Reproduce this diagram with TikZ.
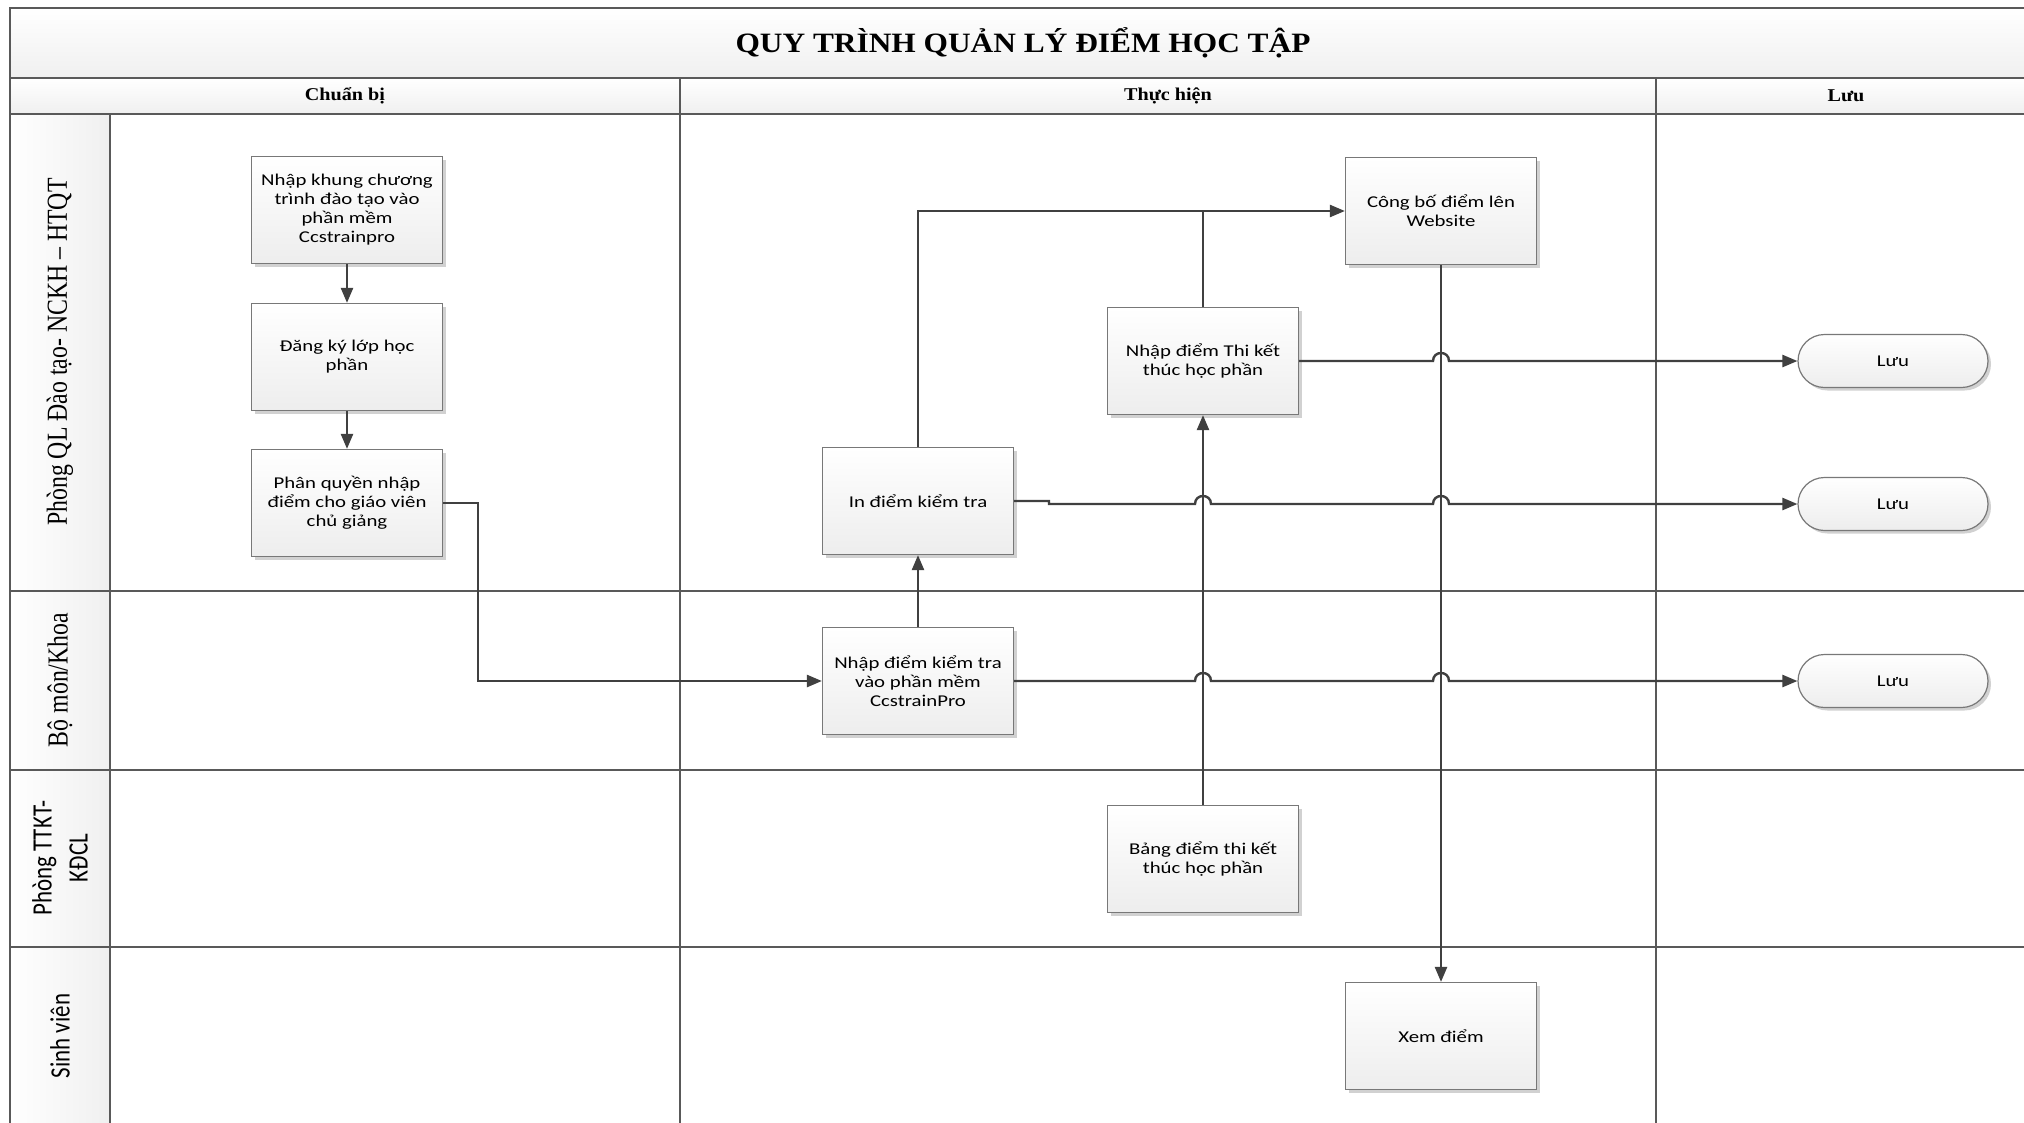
\documentclass[tikz,border=0pt]{standalone}
\usepackage{fontspec}
\setmainfont{Liberation Serif}
\newfontfamily\boxfont[FakeStretch=1.26]{Carlito}
\newfontfamily\lanesans[FakeStretch=0.82]{Carlito}
\newfontfamily\laneserif[FakeStretch=0.82]{Liberation Serif}
\newfontfamily\titlefont[FakeStretch=1.12]{Liberation Serif}
\usetikzlibrary{arrows.meta,shadows}
\definecolor{lanec}{RGB}{89,89,89}
\definecolor{connc}{RGB}{64,64,64}
\definecolor{boxline}{RGB}{120,120,120}
\begin{document}
\begin{tikzpicture}[x=1pt,y=-1pt,
  proc/.style={draw=boxline, line width=1.2pt, top color=white, bottom color=gray!14,
    minimum width=191pt, minimum height=107pt, align=center, inner sep=2pt,
    font=\boxfont\fontsize{16.5}{19}\selectfont,
    drop shadow={shadow xshift=3pt, shadow yshift=-3pt, fill=black, opacity=0.18}},
  term/.style={draw=boxline, line width=1.2pt, top color=white, bottom color=gray!14,
    minimum width=190pt, minimum height=53pt, rounded corners=26.5pt, align=center,
    font=\boxfont\fontsize{16.5}{19}\selectfont,
    drop shadow={shadow xshift=3pt, shadow yshift=-3pt, fill=black, opacity=0.18}},
  conn/.style={draw=connc, line width=2.4pt},
  arr/.style={conn, -{Triangle[length=15pt,width=12pt]}},
  lane/.style={draw=lanec, line width=2pt},
  divider/.style={draw=lanec, line width=1.6pt},
  lanelabel/.style={rotate=90, align=center}
]
\useasboundingbox (0,0) rectangle (2024,1122);
\clip (0,0) rectangle (2024,1122);
\fill[white] (0,0) rectangle (2024,1122);

% bands
\shade[top color=white, bottom color=gray!12] (10,7.7) rectangle (2036,78);
\shade[top color=white, bottom color=gray!12] (10,78) rectangle (2036,113.7);
\shade[left color=white, right color=gray!12] (10,113.7) rectangle (110,1125);

% lane and column lines
\draw[lane] (10,7.7) rectangle (2036,1125);
\draw[lane] (10,78) -- (2036,78);
\draw[lane] (10,113.7) -- (2036,113.7);
\draw[lane] (110,113.7) -- (110,1125);
\draw[lane] (10,591) -- (2036,591);
\draw[lane] (10,770) -- (2036,770);
\draw[lane] (10,947) -- (2036,947);
\draw[divider] (680,78) -- (680,1125);
\draw[divider] (1656,78) -- (1656,1125);

% title and headers
\node (title) at (1023,43) {\titlefont\bfseries\fontsize{28}{32}\selectfont QUY TRÌNH QUẢN LÝ ĐIỂM HỌC TẬP};
\node (h1) at (345,95.8) {\titlefont\bfseries\fontsize{18}{20}\selectfont Chuẩn bị};
\node (h2) at (1168,95.8) {\titlefont\bfseries\fontsize{18}{20}\selectfont Thực hiện};
\node (h3) at (1846,95.8) {\titlefont\bfseries\fontsize{18}{20}\selectfont Lưu};

% lane labels
\node[lanelabel, font=\laneserif\fontsize{29}{32}\selectfont] (l1) at (60,352) {Phòng QL Đào tạo- NCKH – HTQT};
\node[lanelabel, font=\laneserif\fontsize{29}{32}\selectfont] (l2) at (60,680) {Bộ môn/Khoa};
\node[lanelabel, font=\lanesans\fontsize{28}{36}\selectfont] (l3) at (60,858) {Phòng TTKT-\\KĐCL};
\node[lanelabel, font=\lanesans\fontsize{28}{32}\selectfont] (l4) at (60,1036) {Sinh viên};

% process boxes
\node[proc] (A) at (347,210) {Nhập khung chương\\trình đào tạo vào\\phần mềm\\Ccstrainpro};
\node[proc] (B) at (347,357) {Đăng ký lớp học\\phần};
\node[proc] (C) at (347,503) {Phân quyền nhập\\điểm cho giáo viên\\chủ giảng};
\node[proc] (D) at (918,501) {In điểm kiểm tra};
\node[proc] (E) at (918,681) {Nhập điểm kiểm tra\\vào phần mềm\\CcstrainPro};
\node[proc] (F) at (1203,361) {Nhập điểm Thi kết\\thúc học phần};
\node[proc] (G) at (1441,211) {Công bố điểm lên\\Website};
\node[proc] (H) at (1203,859) {Bảng điểm thi kết\\thúc học phần};
\node[proc] (I) at (1441,1036) {Xem điểm};
\node[term] (L1) at (1893,361) {Lưu};
\node[term] (L2) at (1893,504) {Lưu};
\node[term] (L3) at (1893,681) {Lưu};

% connectors
\draw[arr] (A.south) -- (B.north);
\draw[arr] (B.south) -- (C.north);
\draw[arr] (C.east) -- ++(35,0) |- (E.west);
\draw[arr] (E.north) -- (D.south);
\draw[arr] (D.north) |- (G.west);
\draw[conn] (F.north) -- (F.north |- G.west);
\draw[arr] (H.north) -- (F.south);
\draw[arr] (G.south) -- (I.north);
\draw[arr] (F.east) -- (1433,361) .. controls (1433,350.3) and (1449,350.3) .. (1449,361) -- (L1.west);
\draw[arr] (D.east) -- (1049,501) -- (1049,504) -- (1195,504)
  .. controls (1195,493.3) and (1211,493.3) .. (1211,504) -- (1433,504)
  .. controls (1433,493.3) and (1449,493.3) .. (1449,504) -- (L2.west);
\draw[arr] (E.east) -- (1195,681)
  .. controls (1195,670.3) and (1211,670.3) .. (1211,681) -- (1433,681)
  .. controls (1433,670.3) and (1449,670.3) .. (1449,681) -- (L3.west);
\end{tikzpicture}
\end{document}
